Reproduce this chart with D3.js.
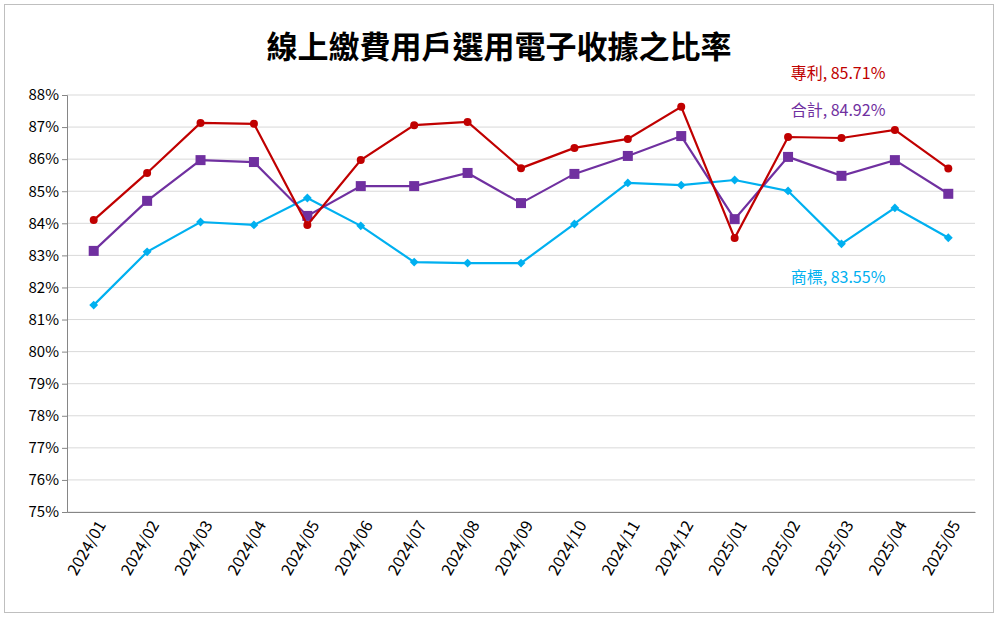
<!DOCTYPE html>
<html><head><meta charset="utf-8">
<script src="https://cdn.jsdelivr.net/npm/d3@7"></script>
<style>body{margin:0;background:#fff}</style>
</head><body><div id="chart"></div>
<script>
// data
const months = ["2024/01","2024/02","2024/03","2024/04","2024/05","2024/06","2024/07","2024/08","2024/09","2024/10","2024/11","2024/12","2025/01","2025/02","2025/03","2025/04","2025/05"];
const patent = [84.10,85.57,87.13,87.10,83.95,85.97,87.06,87.16,85.72,86.35,86.63,87.63,83.54,86.69,86.66,86.91,85.71];
const total = [83.14,84.70,85.97,85.91,84.23,85.16,85.16,85.57,84.63,85.54,86.10,86.72,84.13,86.07,85.48,85.97,84.92];
const trademark = [81.45,83.11,84.04,83.95,84.79,83.92,82.79,82.76,82.76,83.98,85.26,85.19,85.35,85.01,83.36,84.48,83.55];
const yTicks = d3.range(75, 89, 1);

const W = 998, H = 617;
const M = { top: 95, right: 23, bottom: 105, left: 67 };
const font = "'Noto Sans CJK TC', 'Noto Sans', sans-serif";

const svg = d3.select("#chart").append("svg").attr("width", W).attr("height", H);
svg.append("rect").attr("x", 4.5).attr("y", 4.5).attr("width", W - 9).attr("height", H - 9)
  .attr("fill", "#fff").attr("stroke", "#bfbfbf");

const x = d3.scaleBand().domain(months).range([M.left, W - M.right]);
const y = d3.scaleLinear().domain([75, 88]).range([H - M.bottom, M.top]);

// gridlines
svg.append("g").selectAll("line").data(yTicks).join("line")
  .attr("x1", M.left).attr("x2", W - M.right)
  .attr("y1", d => y(d)).attr("y2", d => y(d))
  .attr("stroke", "#d9d9d9");

// y axis
const ya = svg.append("g").attr("transform", `translate(${M.left},0)`)
  .call(d3.axisLeft(y).tickValues(yTicks).tickFormat(d => d + "%").tickSize(5));
ya.select(".domain").attr("stroke", "#868686");
ya.selectAll(".tick line").attr("stroke", "#868686");
ya.selectAll("text").attr("font-family", font).attr("font-size", 15).attr("fill", "#000");

// x axis
const xa = svg.append("g").attr("transform", `translate(0,${H - M.bottom})`)
  .call(d3.axisBottom(x).tickSize(0).tickSizeOuter(0));
xa.select(".domain").attr("stroke", "#868686");
xa.selectAll("text").attr("font-family", font).attr("font-size", 16).attr("fill", "#000")
  .attr("text-anchor", "end").attr("dx", "-0.3em").attr("dy", "0.9em")
  .attr("transform", "rotate(-60)");

const cx = d => x(d) + x.bandwidth() / 2;
const line = d3.line().x((d, i) => cx(months[i])).y(d => y(d));

const series = [
  { vals: trademark, color: "#00b0f0", shape: "diamond", label: "商標, 83.55%", lx: 838, ly: 283 },
  { vals: total, color: "#7030a0", shape: "square", label: "合計, 84.92%", lx: 838, ly: 116 },
  { vals: patent, color: "#c00000", shape: "circle", label: "專利, 85.71%", lx: 838, ly: 79 }
];

series.forEach(s => {
  svg.append("path").datum(s.vals).attr("d", line)
    .attr("fill", "none").attr("stroke", s.color).attr("stroke-width", 2.2);
  const g = svg.append("g");
  s.vals.forEach((v, i) => {
    const px = cx(months[i]), py = y(v);
    if (s.shape === "circle") g.append("circle").attr("cx", px).attr("cy", py).attr("r", 4).attr("fill", s.color);
    else if (s.shape === "square") g.append("rect").attr("x", px - 5).attr("y", py - 5).attr("width", 10).attr("height", 10).attr("fill", s.color);
    else g.append("path").attr("d", d3.symbol(d3.symbolDiamond2, 50)()).attr("transform", `translate(${px},${py})`).attr("fill", s.color);
  });
  svg.append("text").attr("x", s.lx).attr("y", s.ly).attr("text-anchor", "middle")
    .attr("font-family", font).attr("font-size", 16).attr("fill", s.color).text(s.label);
});

svg.append("text").attr("x", 499).attr("y", 58).attr("text-anchor", "middle")
  .attr("font-family", font).attr("font-size", 31).attr("font-weight", "bold").text("線上繳費用戶選用電子收據之比率");
</script></body></html>
